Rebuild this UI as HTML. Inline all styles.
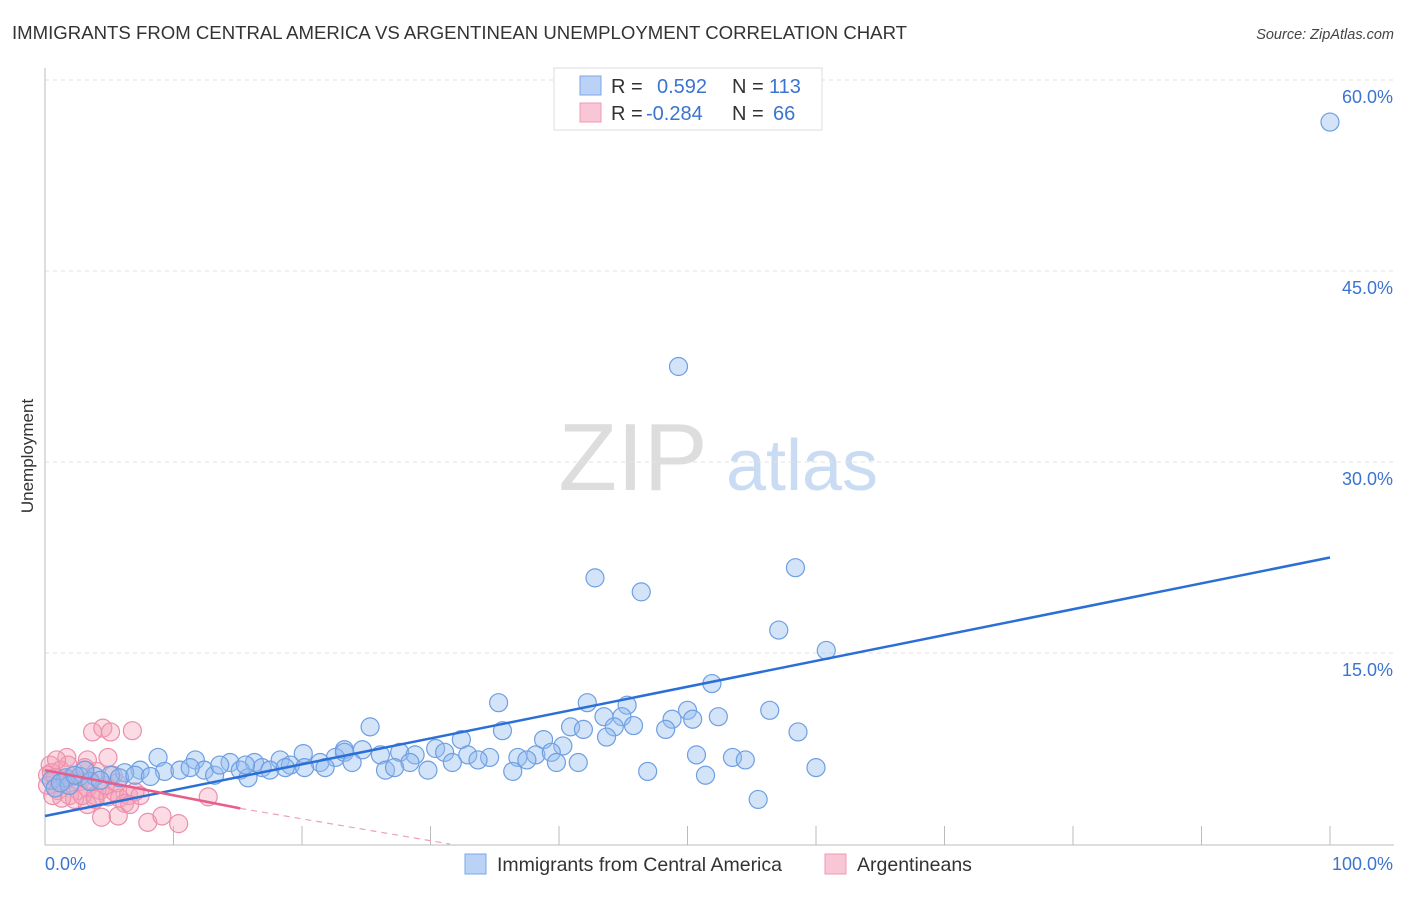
<!DOCTYPE html>
<html><head><meta charset="utf-8"><style>
body{margin:0;background:#fff;font-family:"Liberation Sans",sans-serif}
svg text{font-family:"Liberation Sans",sans-serif}
</style></head><body>
<svg id="chart" width="1406" height="892" xmlns="http://www.w3.org/2000/svg">
<text x="12" y="39" font-size="18.6" fill="#333">IMMIGRANTS FROM CENTRAL AMERICA VS ARGENTINEAN UNEMPLOYMENT CORRELATION CHART</text>
<text x="1394" y="39" font-size="14.5" fill="#444" text-anchor="end" font-style="italic">Source: ZipAtlas.com</text>
<text transform="translate(33,456) rotate(-90)" font-size="17" fill="#333" text-anchor="middle">Unemployment</text>
<g>
<text x="633" y="490" font-size="96" fill="#ddd" font-family="Liberation Serif" text-anchor="middle">ZIP</text>
<text x="802" y="490" font-size="72" fill="#c9dcf3" text-anchor="middle">atlas</text>
</g>
<g id="grid"></g><g id="axes"></g><g id="pink"></g><g id="blue"></g><g id="lines"></g>
<g>
<rect x="554" y="68" width="268" height="62" fill="#fff" stroke="#ddd"/>
<rect x="580" y="76" width="21" height="19" fill="#b9d2f5" stroke="#7aa7e6"/>
<rect x="580" y="103" width="21" height="19" fill="#f9c6d6" stroke="#ee9ab4"/>
<text x="611" y="93" font-size="20" fill="#333">R =</text><text x="657" y="93" font-size="20" fill="#3b74d0">0.592</text>
<text x="732" y="93" font-size="20" fill="#333">N =</text><text x="769" y="93" font-size="20" fill="#3b74d0">113</text>
<text x="611" y="120" font-size="20" fill="#333">R =</text><text x="646" y="120" font-size="20" fill="#3b74d0">-0.284</text>
<text x="732" y="120" font-size="20" fill="#333">N =</text><text x="773" y="120" font-size="20" fill="#3b74d0">66</text>
</g>
<g>
<rect x="465" y="854" width="21" height="20" fill="#b9d2f5" stroke="#7aa7e6"/>
<text x="497" y="871" font-size="19.5" fill="#333">Immigrants from Central America</text>
<rect x="825" y="854" width="21" height="20" fill="#f9c6d6" stroke="#ee9ab4"/>
<text x="857" y="871" font-size="19.5" fill="#333">Argentineans</text>
</g>
</svg>
<script>
const yTicks=[15,30,45,60];
const yTickLabels=["15.0%","30.0%","45.0%","60.0%"];
const xTickLabels=["0.0%","100.0%"];
const blueX=[100,49.3,42.8,46.4,58.4,57.1,60.8,51.9,35.3,42.2,45.3,56.4,43.5,44.9,50,48.8,50.4,52.4,25.3,35.6,40.9,41.9,44.3,45.8,48.3,43.7,58.6,32.4,38.8,40.3,30.4,23.3,20.1,8.8,50.7,53.5,54.5,34.6,36.8,38.2,39.4,22.6,23.3,24.7,26.1,27.6,28.8,31.1,32.9,11.7,14.4,16.3,18.3,19.1,21.4,23.9,26.5,28.4,29.8,31.7,33.7,36.4,37.5,39.8,41.5,46.9,51.4,60,55.5,7.4,9.3,10.5,12.4,13.2,15.2,15.8,16.9,17.5,20.2,6.2,5.1,3.9,2.7,1.6,0.5,0.8,5.8,7.0,8.2,3.5,4.3,1.9,3.1,1.2,2.3,11.3,13.6,15.6,18.7,21.8,27.2];
const blueY=[56.7,37.5,20.9,19.8,21.7,16.8,15.2,12.6,11.1,11.1,10.9,10.5,10.0,10.0,10.5,9.8,9.8,10.0,9.2,8.9,9.2,9.0,9.2,9.3,9.0,8.4,8.8,8.2,8.2,7.7,7.5,7.4,7.1,6.8,7.0,6.8,6.6,6.8,6.8,7.0,7.2,6.8,7.2,7.4,7.0,7.2,7.0,7.2,7.0,6.6,6.4,6.4,6.6,6.2,6.4,6.4,5.8,6.4,5.8,6.4,6.6,5.7,6.6,6.4,6.4,5.7,5.4,6.0,3.5,5.8,5.7,5.8,5.8,5.4,5.8,5.2,6.0,5.8,6.0,5.6,5.4,5.3,5.3,5.2,5.0,4.4,5.2,5.4,5.3,4.9,5.0,4.6,5.8,4.8,5.4,6.0,6.2,6.2,6.0,6.0,6.0];
const pinkX=[3.7,4.5,5.1,6.8,1.7,3.3,4.9,3.1,0.4,1.2,0.2,0.8,1.6,2.1,2.7,0.2,1.0,1.9,2.6,3.3,3.9,4.3,4.9,5.4,5.8,6.5,7.0,3.5,4.7,5.6,12.7,6.2,6.6,4.4,5.7,8.0,9.1,10.4,3.3,2.3,1.3,0.5,0.6,7.4,2.9,4.0,1.8,5.3,0.9,3.9];
const pinkY=[8.8,9.1,8.8,8.9,6.8,6.6,6.8,6.0,6.2,5.8,5.4,5.2,5.0,5.3,4.9,4.6,4.2,3.8,4.2,4.4,3.8,4.2,3.7,4.1,3.6,3.8,4.1,5.0,4.6,4.8,3.7,3.2,3.1,2.1,2.2,1.7,2.2,1.6,3.1,3.5,3.6,5.6,3.8,3.8,3.8,5.7,6.2,5.4,6.6,3.5];
const blueLine=[[0,2.2],[100,22.5]];
const pinkLine=[[0,5.8],[15.2,2.8]];
const pinkDash=[[15.2,2.8],[31.5,0]];
const X=v=>45+v*12.85, Y=v=>844-v*12.733;
const NS="http://www.w3.org/2000/svg";
function mk(t,a,p){const e=document.createElementNS(NS,t);for(const k in a)e.setAttribute(k,a[k]);p.appendChild(e);return e;}
const grid=document.getElementById('grid'),axes=document.getElementById('axes');
yTicks.forEach((v,i)=>{
 const l=mk('line',{x1:45,x2:1394,y1:Y(v),y2:Y(v),stroke:'#e2e2e2','stroke-dasharray':'4,4'},grid);
 
 
 const t=mk('text',{x:1393,y:Y(v)+23,'font-size':18,fill:'#3b74d0','text-anchor':'end'},axes);
 t.textContent=yTickLabels[i];
 
 
});
let ax=mk('line',{x1:45,x2:45,y1:68,y2:845,stroke:'#bbb'},axes);


ax=mk('line',{x1:45,x2:1394,y1:845,y2:845,stroke:'#bbb'},axes);


for(let i=1;i<=10;i++){const tk=mk('line',{x1:X(i*10),x2:X(i*10),y1:826,y2:845,stroke:'#bbb'},axes);
 
 }
[[0,'start',45],[100,'end',1393]].forEach((d,i)=>{const t=mk('text',{x:d[2],y:870,'font-size':18,fill:'#3b74d0','text-anchor':d[1]},axes);t.textContent=xTickLabels[i];
 
 });
const pg=document.getElementById('pink'),bg=document.getElementById('blue'),lg=document.getElementById('lines');
pinkX.forEach((x,i)=>{const c=mk('circle',{cx:X(x),cy:Y(pinkY[i]),r:9,fill:'rgba(245,160,185,0.38)',stroke:'#eb8fac','stroke-width':1.2},pg);
 
 });
blueX.forEach((x,i)=>{const c=mk('circle',{cx:X(x),cy:Y(blueY[i]),r:9,fill:'rgba(150,188,238,0.42)',stroke:'#6d9fe2','stroke-width':1.2},bg);
 
 });
let ln=mk('line',{x1:X(blueLine[0][0]),y1:Y(blueLine[0][1]),x2:X(blueLine[1][0]),y2:Y(blueLine[1][1]),stroke:'#2a6fd6','stroke-width':2.5},lg);


ln=mk('line',{x1:X(pinkLine[0][0]),y1:Y(pinkLine[0][1]),x2:X(pinkLine[1][0]),y2:Y(pinkLine[1][1]),stroke:'#e85d8a','stroke-width':2.5},lg);


ln=mk('line',{x1:X(pinkDash[0][0]),y1:Y(pinkDash[0][1]),x2:X(pinkDash[1][0]),y2:Y(pinkDash[1][1]),stroke:'#eea0b8','stroke-width':1.2,'stroke-dasharray':'6,5'},lg);


</script>
</body></html>
